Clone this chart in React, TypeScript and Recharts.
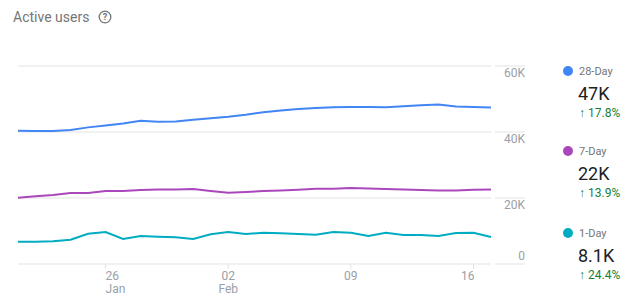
import React from "react";
import { LineChart, Line, XAxis, YAxis, CartesianGrid } from "recharts";

const dates = [
  "Jan 21", "Jan 22", "Jan 23", "Jan 24", "Jan 25", "Jan 26", "Jan 27",
  "Jan 28", "Jan 29", "Jan 30", "Jan 31", "Feb 01", "Feb 02", "Feb 03",
  "Feb 04", "Feb 05", "Feb 06", "Feb 07", "Feb 08", "Feb 09", "Feb 10",
  "Feb 11", "Feb 12", "Feb 13", "Feb 14", "Feb 15", "Feb 16", "Feb 17",
];

const day28 = [
  40400, 40300, 40300, 40600, 41400, 42000, 42600, 43400, 43100, 43200,
  43700, 44200, 44600, 45200, 46000, 46500, 47000, 47300, 47500, 47600,
  47600, 47500, 47800, 48100, 48300, 47700, 47600, 47400,
];

const day7 = [
  20100, 20500, 20900, 21500, 21500, 22100, 22100, 22400, 22600, 22600,
  22700, 22100, 21600, 21800, 22100, 22300, 22500, 22800, 22800, 23000,
  22900, 22700, 22600, 22400, 22300, 22300, 22500, 22600,
];

const day1 = [
  6760, 6760, 6880, 7360, 9180, 9700, 7580, 8480, 8270, 8090,
  7580, 9000, 9700, 9090, 9480, 9300, 9090, 8880, 9700, 9480,
  8480, 9480, 8790, 8790, 8480, 9390, 9480, 8180,
];

const xTicks = ["Jan 26", "Feb 02", "Feb 09", "Feb 16"];
const yTicks = [0, 20000, 40000, 60000];

const seriesKeys = ["d28", "d7", "d1"];
const seriesNames = ["28-Day", "7-Day", "1-Day"];
const seriesColors = ["#4285f4", "#ab47bc", "#00acc1"];
const latestLabels = ["47K", "22K", "8.1K"];
const changeLabels = ["17.8%", "13.9%", "24.4%"];

const data = dates.map((d, i) => ({
  date: d,
  d28: day28[i],
  d7: day7[i],
  d1: day1[i],
}));

const FONT = "Roboto, 'Noto Sans', sans-serif";
const GRID = "#e3e3e3";
const MUTED = "#9aa0a6";

function XTick(props: any) {
  const { x, y, payload } = props;
  const value: string = payload.value;
  const idx = xTicks.indexOf(value);
  const [mon, dd] = value.split(" ");
  const prevMon = idx > 0 ? xTicks[idx - 1].split(" ")[0] : "";
  const showMonth = idx === 0 || prevMon !== mon;
  const anchor = idx === 0 ? "start" : idx === xTicks.length - 1 ? "end" : "middle";
  const tx = idx === xTicks.length - 1 ? x + 1 : x;
  return (
    <g>
      <text x={tx} y={y + 9} textAnchor={anchor} fill={MUTED} fontSize={12} fontFamily={FONT}>
        {dd}
      </text>
      {showMonth && (
        <text x={tx} y={y + 22} textAnchor={anchor} fill={MUTED} fontSize={12} fontFamily={FONT}>
          {mon}
        </text>
      )}
    </g>
  );
}

function YTick(props: any) {
  const { x, y, payload } = props;
  const v: number = payload.value;
  const label = v === 0 ? "0" : `${v / 1000}K`;
  const ty = v === 0 ? y - 4 : y + 11;
  return (
    <g>
      <line x1={x + 4} x2={x + 34} y1={y} y2={y} stroke={GRID} />
      <text x={x + 34} y={ty} textAnchor="end" fill={MUTED} fontSize={12} fontFamily={FONT}>
        {label}
      </text>
    </g>
  );
}

export default function App() {
  return (
    <div
      style={{
        position: "absolute",
        left: 0,
        top: 0,
        width: 638,
        height: 299,
        background: "#fff",
        fontFamily: FONT,
        overflow: "hidden",
      }}
    >
      <div
        style={{
          position: "absolute",
          left: 13,
          top: 9,
          fontSize: 14,
          color: "#757575",
          display: "flex",
          alignItems: "center",
        }}
      >
        <span>Active users</span>
        <svg width={14} height={14} style={{ marginLeft: 9 }}>
          <circle cx={7} cy={7} r={5.8} fill="none" stroke="#757575" strokeWidth={1.3} />
          <text x={7} y={10.3} textAnchor="middle" fontSize={9} fontWeight={700} fill="#757575" fontFamily={FONT}>
            ?
          </text>
        </svg>
      </div>

      <div style={{ position: "absolute", left: 0, top: 0 }}>
        <LineChart
          width={530}
          height={299}
          data={data}
          margin={{ top: 66, right: 0, bottom: 0, left: 18 }}
        >
          <CartesianGrid vertical={false} stroke={GRID} />
          <XAxis
            dataKey="date"
            ticks={xTicks}
            interval={0}
            axisLine={false}
            tickLine={{ stroke: GRID }}
            tickSize={5}
            tickMargin={2}
            height={35}
            tick={<XTick />}
          />
          <YAxis
            orientation="right"
            domain={[0, 60000]}
            ticks={yTicks}
            width={39}
            axisLine={false}
            tickLine={false}
            tickSize={0}
            tickMargin={0}
            tick={<YTick />}
          />
          {seriesKeys.map((k, i) => (
            <Line
              key={k}
              type="linear"
              dataKey={k}
              stroke={seriesColors[i]}
              strokeWidth={2}
              dot={false}
              isAnimationActive={false}
            />
          ))}
        </LineChart>
      </div>

      {seriesNames.map((name, i) => (
        <div
          key={name}
          style={{ position: "absolute", left: 563, top: [63, 143, 225][i], width: 75 }}
        >
          <div style={{ display: "flex", alignItems: "center", height: 16 }}>
            <span
              style={{
                width: 10,
                height: 10,
                borderRadius: 5,
                background: seriesColors[i],
                display: "inline-block",
                marginRight: 6,
              }}
            />
            <span style={{ fontSize: 11, color: "#757575" }}>{name}</span>
          </div>
          <div style={{ fontSize: 18, color: "#202124", marginLeft: 15, marginTop: 4, lineHeight: "22px" }}>
            {latestLabels[i]}
          </div>
          <div style={{ fontSize: 12, color: "#188038", marginLeft: 16, lineHeight: "16px" }}>
            <span style={{ fontWeight: 700, marginRight: 3 }}>↑</span>
            {changeLabels[i]}
          </div>
        </div>
      ))}
    </div>
  );
}
